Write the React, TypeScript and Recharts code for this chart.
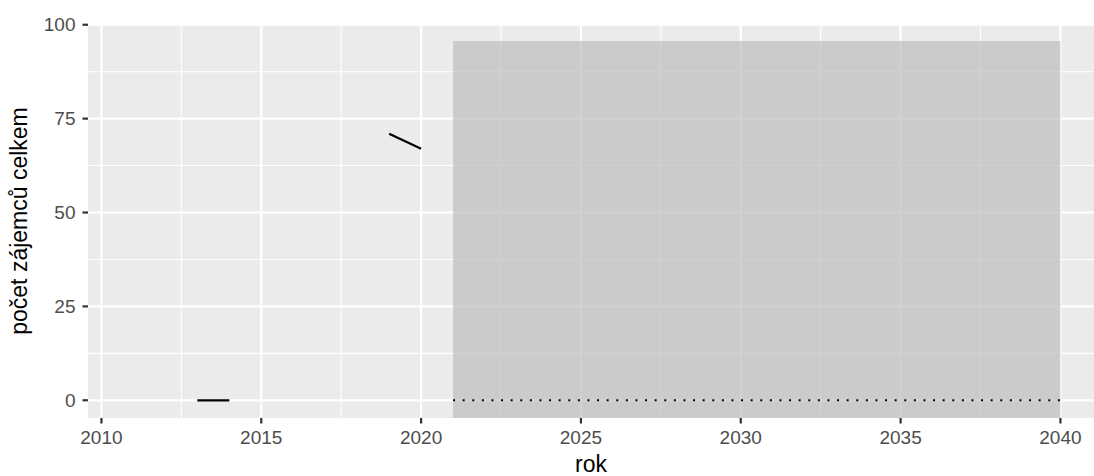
import {
  Area,
  CartesianGrid,
  ComposedChart,
  Line,
  XAxis,
  YAxis
} from 'recharts';

// observed series (two short pieces)
const early = [
  { rok: 2013, pocet: 0 },
  { rok: 2014, pocet: 0 }
];
const recent = [
  { rok: 2019, pocet: 71 },
  { rok: 2020, pocet: 67 }
];

// forecast period
const forecastYears = [2021, 2022, 2023, 2024, 2025, 2026, 2027, 2028, 2029, 2030, 2031, 2032, 2033, 2034, 2035, 2036, 2037, 2038, 2039, 2040];
const forecastMean = [0, 0, 0, 0, 0, 0, 0, 0, 0, 0, 0, 0, 0, 0, 0, 0, 0, 0, 0, 0];
const forecastLow = [-4.8, -4.8, -4.8, -4.8, -4.8, -4.8, -4.8, -4.8, -4.8, -4.8, -4.8, -4.8, -4.8, -4.8, -4.8, -4.8, -4.8, -4.8, -4.8, -4.8];
const forecastHigh = [95.7, 95.7, 95.7, 95.7, 95.7, 95.7, 95.7, 95.7, 95.7, 95.7, 95.7, 95.7, 95.7, 95.7, 95.7, 95.7, 95.7, 95.7, 95.7, 95.7];

const xTicks = [2010, 2015, 2020, 2025, 2030, 2035, 2040];
const xMinor = [2012.5, 2017.5, 2022.5, 2027.5, 2032.5, 2037.5];
const yTicks = [0, 25, 50, 75, 100];
const yMinor = [12.5, 37.5, 62.5, 87.5];

const forecast = forecastYears.map((rok, i) => ({
  rok,
  pocet: forecastMean[i],
  pas: [forecastLow[i], forecastHigh[i]]
}));

const tickStyle = { fill: '#4D4D4D', fontSize: 19 };
const tickLine = { stroke: '#333333', strokeWidth: 2.2 };

export default function App() {
  return (
    <div style={{ position: 'absolute', left: 0, top: 0, fontFamily: '"Liberation Sans", Arial, sans-serif' }}>
      <ComposedChart width={1094} height={476} margin={{ top: 24, right: 0, bottom: 0, left: 0 }}>
        <CartesianGrid
          fill="#EBEBEB"
          stroke="#FFFFFF"
          strokeWidth={1.1}
          horizontalValues={yMinor}
          verticalValues={xMinor}
        />
        <CartesianGrid
          stroke="#FFFFFF"
          strokeWidth={2.2}
          horizontalValues={yTicks}
          verticalValues={xTicks}
        />
        <XAxis
          type="number"
          dataKey="rok"
          domain={[2009.58, 2041.05]}
          allowDataOverflow
          ticks={xTicks}
          axisLine={false}
          tickLine={tickLine}
          tickSize={5.5}
          tickMargin={7}
          tick={tickStyle}
          height={58}
          label={{ value: 'rok', position: 'insideBottom', offset: 4, fill: '#000000', fontSize: 23 }}
        />
        <YAxis
          type="number"
          domain={[-4.72, 100.2]}
          allowDataOverflow
          ticks={yTicks}
          axisLine={false}
          tickLine={tickLine}
          tickSize={5.5}
          tickMargin={7}
          tick={tickStyle}
          width={88}
          label={{
            value: 'počet zájemců celkem',
            angle: -90,
            position: 'insideLeft',
            offset: 19,
            fill: '#000000',
            fontSize: 23,
            style: { textAnchor: 'middle' }
          }}
        />
        <Area
          data={forecast}
          dataKey="pas"
          type="linear"
          stroke="none"
          fill="#BDBDBD"
          fillOpacity={0.7}
          isAnimationActive={false}
        />
        <Line
          data={forecast}
          dataKey="pocet"
          type="linear"
          stroke="#000000"
          strokeWidth={2}
          strokeDasharray="2 7.6"
          dot={false}
          activeDot={false}
          isAnimationActive={false}
        />
        <Line
          data={early}
          dataKey="pocet"
          type="linear"
          stroke="#000000"
          strokeWidth={2.2}
          dot={false}
          activeDot={false}
          isAnimationActive={false}
        />
        <Line
          data={recent}
          dataKey="pocet"
          type="linear"
          stroke="#000000"
          strokeWidth={2.2}
          dot={false}
          activeDot={false}
          isAnimationActive={false}
        />
      </ComposedChart>
    </div>
  );
}
